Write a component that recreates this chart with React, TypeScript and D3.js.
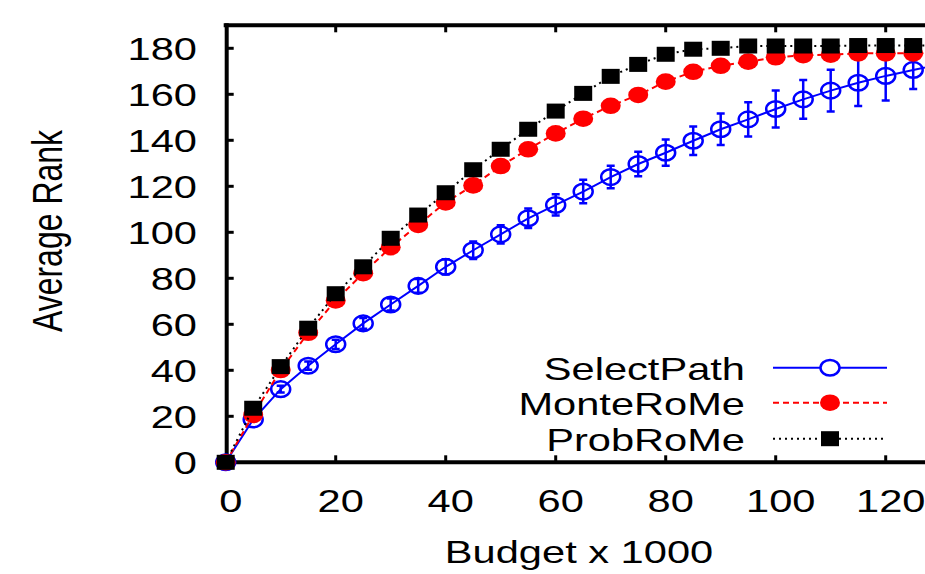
import * as d3 from 'd3';
import React from "react";

// budget (x 1000)
const budget = [0, 5, 10, 15, 20, 25, 30, 35, 40, 45, 50, 55, 60, 65, 70, 75, 80, 85, 90, 95, 100, 105, 110, 115, 120, 125, 130];

const selectPath = [0, 18.6, 31.8, 42, 51.3, 60.4, 68.6, 76.7, 85, 92.2, 99.1, 106.1, 111.9, 117.7, 124, 129.7, 134.6, 139.8, 144.8, 149.1, 153.6, 157.8, 161.6, 165, 168, 170.6, 173];
const selectPathErr = [0, 0.8, 1.5, 1.8, 2, 2.3, 2.6, 3, 3.3, 3.8, 4, 4.2, 4.6, 5.1, 4.9, 5.3, 5.7, 6.2, 6.8, 7.4, 8, 8.4, 9.1, 10.1, 10.7, 8.3, 8];

const monteRoMe = [0, 20.6, 40.1, 56.3, 70.4, 82.2, 93.5, 103.2, 113, 120.4, 128.8, 136.1, 143, 149.4, 155, 159.7, 165.5, 169.8, 172.4, 174.2, 176.1, 177, 177.2, 177.8, 177.8, 177.8, 178];
const monteRoMeErr = [0, 0.8, 1, 1, 1.2, 1.2, 1.3, 1.4, 1.4, 1.5, 1.5, 1.6, 1.6, 1.7, 1.7, 1.8, 1.8, 1.8, 1.8, 1.6, 1.5, 1.4, 1.3, 1.2, 1.2, 1.2, 1.2];

const probRoMe = [0, 23.5, 41.6, 58.3, 73.3, 85, 97.4, 107.5, 117.2, 127.2, 136.1, 144.8, 152.7, 160.4, 167.8, 173, 177.4, 179.6, 180, 181, 181, 181, 181, 181.2, 181.2, 181.2, 181.2];

const xTicks = [0, 20, 40, 60, 80, 100, 120];
const yTicks = [0, 20, 40, 60, 80, 100, 120, 140, 160, 180];

const W = 925, H = 574;
const FONT = "'Liberation Sans', Arial, Helvetica, sans-serif";
const SX = 1.3; // horizontal stretch of the original figure

const x = d3.scaleLinear().domain([0, 130]).range([225.7, 225.7 + 130 * 5.5]);
const y = d3.scaleLinear().domain([0, 190]).range([462.3, 462.3 - 190 * 2.3]);

const line = d3.line<number>().x((_, i) => x(budget[i])).y(d => y(d));

const Txt: React.FC<{ x: number; y: number; anchor?: string; children: React.ReactNode }> = ({ x, y, anchor = "start", children }) => (
  <text transform={`translate(${x},${y}) scale(${SX},1)`} textAnchor={anchor} fontFamily={FONT} fontSize={32} fill="#000">{children}</text>
);

export default function App() {
  const x0 = x(0), y0 = y(0), yTop = y(190);
  const legend = [
    { label: "SelectPath", y: 367.7, color: "#0000ff", dash: undefined as string | undefined, kind: "circle" },
    { label: "MonteRoMe", y: 402.7, color: "#ff0000", dash: "6 4", kind: "dot" },
    { label: "ProbRoMe", y: 438.7, color: "#000000", dash: "2 4", kind: "square" },
  ];
  return (
    <svg width={W} height={H} style={{ position: "absolute", left: 0, top: 0, background: "#fff" }}>
      <defs>
        <clipPath id="plot"><rect x={x0 - 14} y={yTop} width={W - x0 + 14} height={y0 - yTop + 14} /></clipPath>
      </defs>

      {/* y tick labels */}
      {yTicks.map(t => <Txt key={t} x={197} y={y(t) + 11.5} anchor="end">{t}</Txt>)}
      {/* x tick labels */}
      {xTicks.map(t => <Txt key={t} x={x(t) + 5} y={512} anchor="middle">{t}</Txt>)}

      <text transform={`translate(62,231) scale(${SX},1) rotate(-90)`} textAnchor="middle" fontFamily={FONT} fontSize={32}>Average Rank</text>
      <Txt x={579} y={563} anchor="middle">Budget x 1000</Txt>

      {/* axes */}
      <g stroke="#000" strokeLinecap="square">
        <line x1={x0} x2={W} y1={yTop} y2={yTop} strokeWidth={4} />
        <line x1={x0} x2={W} y1={y0} y2={y0} strokeWidth={4} />
        <line x1={x0 + 1} x2={x0 + 1} y1={yTop} y2={y0} strokeWidth={4} />
        {yTicks.slice(1).map(t => <line key={t} x1={x0} x2={x0 + 8} y1={y(t)} y2={y(t)} strokeWidth={3} strokeLinecap="butt" />)}
        {xTicks.slice(1).map(t => (
          <g key={t}>
            <line x1={x(t)} x2={x(t)} y1={yTop} y2={yTop + 7} strokeWidth={3} strokeLinecap="butt" />
            <line x1={x(t)} x2={x(t)} y1={y0} y2={y0 - 7} strokeWidth={3} strokeLinecap="butt" />
          </g>
        ))}
      </g>

      <g clipPath="url(#plot)">
        {/* SelectPath */}
        <path d={line(selectPath) ?? undefined} fill="none" stroke="#0000ff" strokeWidth={2} />
        {selectPath.map((v, i) => (
          <g key={i} stroke="#0000ff" strokeWidth={2.5}>
            <line x1={x(budget[i])} x2={x(budget[i])} y1={y(v - selectPathErr[i])} y2={y(v + selectPathErr[i])} />
            <line x1={x(budget[i]) - 4} x2={x(budget[i]) + 4} y1={y(v - selectPathErr[i])} y2={y(v - selectPathErr[i])} />
            <line x1={x(budget[i]) - 4} x2={x(budget[i]) + 4} y1={y(v + selectPathErr[i])} y2={y(v + selectPathErr[i])} />
            <ellipse cx={x(budget[i])} cy={y(v)} rx={9.5} ry={7.8} fill="none" />
          </g>
        ))}

        {/* MonteRoMe */}
        <path d={line(monteRoMe) ?? undefined} fill="none" stroke="#ff0000" strokeWidth={2} strokeDasharray="6 4" />
        {monteRoMe.map((v, i) => (
          <g key={i} stroke="#ff0000" strokeWidth={2}>
            <line x1={x(budget[i])} x2={x(budget[i])} y1={y(v - monteRoMeErr[i])} y2={y(v + monteRoMeErr[i])} />
            <line x1={x(budget[i]) - 4} x2={x(budget[i]) + 4} y1={y(v - monteRoMeErr[i])} y2={y(v - monteRoMeErr[i])} />
            <line x1={x(budget[i]) - 4} x2={x(budget[i]) + 4} y1={y(v + monteRoMeErr[i])} y2={y(v + monteRoMeErr[i])} />
            <ellipse cx={x(budget[i])} cy={y(v)} rx={10} ry={8.3} fill="#ff0000" stroke="none" />
          </g>
        ))}

        {/* ProbRoMe */}
        <path d={line(probRoMe) ?? undefined} fill="none" stroke="#000" strokeWidth={2} strokeDasharray="2 4" />
        {probRoMe.map((v, i) => (
          <rect key={i} x={x(budget[i]) - 9} y={y(v) - 7.5} width={18} height={15} fill="#000" />
        ))}
      </g>

      {/* legend */}
      {legend.map(l => (
        <g key={l.label}>
          <Txt x={745} y={l.y + 12} anchor="end">{l.label}</Txt>
          <line x1={773} x2={887} y1={l.y} y2={l.y} stroke={l.color} strokeWidth={2} strokeDasharray={l.dash} />
          {l.kind === "circle" && <ellipse cx={830} cy={l.y} rx={9.5} ry={7.8} fill="#fff" stroke={l.color} strokeWidth={2.5} />}
          {l.kind === "dot" && <ellipse cx={830} cy={l.y} rx={10} ry={8.3} fill={l.color} />}
          {l.kind === "square" && <rect x={821} y={l.y - 7.5} width={18} height={15} fill={l.color} />}
        </g>
      ))}
    </svg>
  );
}
